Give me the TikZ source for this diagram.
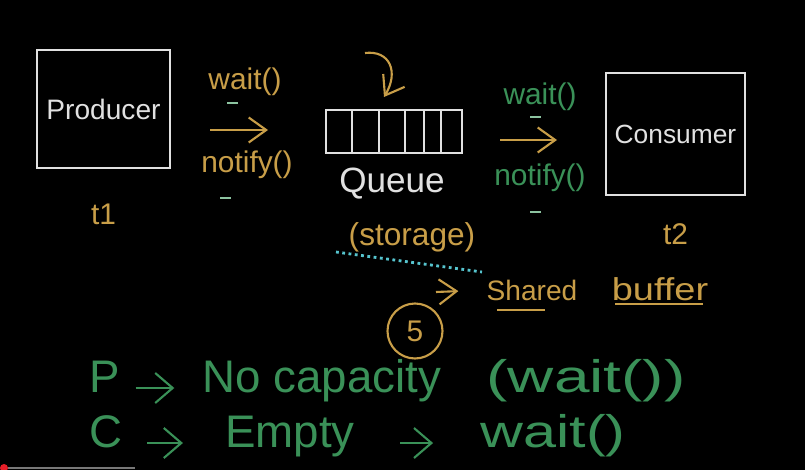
\documentclass[tikz,border=0pt]{standalone}
\usepackage{fontspec}
\setmainfont{Liberation Sans}
\usetikzlibrary{positioning,arrows.meta}
\definecolor{chalkwhite}{RGB}{225,225,225}
\definecolor{chalkgold}{RGB}{200,158,72}
\definecolor{chalkgreen}{RGB}{58,145,88}
\definecolor{chalkmint}{RGB}{140,195,160}
\definecolor{chalkcyan}{RGB}{86,196,206}
\definecolor{progressgray}{RGB}{120,120,120}
\definecolor{progressred}{RGB}{230,30,40}

\begin{document}
\begin{tikzpicture}[
    x=0.02cm, y=-0.02cm,
    box/.style={rectangle, draw=chalkwhite, line width=1.1pt, inner sep=0pt, text=chalkwhite},
    whitetext/.style={text=chalkwhite, inner sep=0pt},
    goldtext/.style={text=chalkgold, inner sep=0pt},
    greentext/.style={text=chalkgreen, inner sep=0pt},
    chalkarrow/.style={draw=chalkgold, line width=1.2pt, -{Straight Barb[length=3.5mm,width=5mm]}},
    rulearrow/.style={draw=chalkgreen, line width=1.2pt, -{Straight Barb[length=3.5mm,width=6mm]}},
    tick/.style={draw=chalkmint, line width=1.2pt},
    smallfont/.style={font=\fontsize{17}{19}\selectfont},
    rulefont/.style={font=\fontsize{26}{28}\selectfont, text height=0.75em, text depth=0.25em}
]

% Board
\fill[black] (0,0) rectangle (805,470);
\useasboundingbox (0,0) rectangle (805,470);

% Main blocks
\node[box, minimum width=2.66cm, minimum height=2.36cm, font=\fontsize{16}{18}\selectfont] (producer) at (103.5,109) {Producer};
\node[box, minimum width=2.72cm, minimum height=0.86cm] (queue) at (394,131.5) {};
\node[box, minimum width=2.78cm, minimum height=2.44cm, font=\fontsize{15}{17}\selectfont] (consumer) at (675.5,134) {Consumer};

% Queue slots
\foreach \x in {352,379,405,424,441}
    \draw[chalkwhite, line width=1.1pt] (\x,110) -- (\x,153);

% Threads
\node[goldtext, smallfont, below=0.69cm of producer] (tone) {t1};
\node[goldtext, smallfont, below=0.55cm of consumer] (ttwo) {t2};

% Producer -> Queue
\coordinate (pqtail) at (210,130);
\coordinate (pqhead) at (268,130);
\draw[chalkarrow] (pqtail) -- (pqhead);
\node[goldtext, smallfont] (pwait) at (245,82) {wait()};
\node[goldtext, smallfont] (pnotify) at (247,165) {notify()};
\draw[tick] (227,103) -- (238,103);
\draw[tick] (220,198) -- (231,198);

% Queue -> Consumer
\coordinate (qctail) at (500,140);
\coordinate (qchead) at (557,140);
\draw[chalkarrow] (qctail) -- (qchead);
\node[greentext, smallfont] (cwait) at (540,97) {wait()};
\node[greentext, smallfont] (cnotify) at (540,178) {notify()};
\draw[tick] (530,117) -- (541,117);
\draw[tick] (530,212) -- (541,212);

% Into the queue
\coordinate (qin) at (365,53);
\coordinate (qtip) at (384,97);
\draw[chalkarrow] (qin) .. controls (390,50) and (399,72) .. (qtip);

% Queue labels
\node[whitetext, font=\fontsize{20}{22}\selectfont] (queuelbl) at (392,184) {Queue};
\node[goldtext, font=\fontsize{18}{20}\selectfont] (storage) at (412,237) {(storage)};
\draw[chalkcyan, dotted, line width=1.6pt] (336,252) -- (482,272);

% Shared buffer
\node[goldtext, font=\fontsize{16}{18}\selectfont] (shared) at (532,290) {Shared};
\node[goldtext, font=\fontsize{18}{20}\selectfont] (buffer) at (660,289) {\scalebox{1.2}[1]{buffer}};
\coordinate (sharedtail) at (436,292);
\draw[chalkarrow, shorten >=0.56cm] (sharedtail) -- (shared.west);
\draw[chalkgold, line width=1.2pt] (497,310) -- (545,310);
\draw[chalkgold, line width=1.2pt] (615,304) -- (703,304);

% Capacity
\node[circle, draw=chalkgold, line width=1.2pt, minimum size=1.1cm, goldtext, smallfont] (capacity) at (415,331) {5};

% Rules
\node[greentext, rulefont] (pletter) at (105,388) {P};
\node[greentext, rulefont] (pnocap) at (322,388) {No capacity};
\node[greentext, rulefont] (pwaitcall) at (586,388) {\scalebox{1.4}[1]{(wait())}};
\draw[rulearrow, shorten <=0.3cm, shorten >=0.56cm] (pletter) -- (pnocap);

\node[greentext, rulefont] (cletter) at (106,443) {C};
\node[greentext, rulefont] (cempty) at (290,443) {Empty};
\node[greentext, rulefont] (cwaitcall) at (553,443) {\scalebox{1.3}[1]{wait()}};
\draw[rulearrow, shorten <=0.49cm, shorten >=0.84cm] (cletter) -- (cempty);
\draw[rulearrow, shorten <=0.9cm, shorten >=0.94cm] (cempty) -- (cwaitcall);

% Progress bar
\fill[progressgray] (8,467) rectangle (135,469);
\fill[progressred] (4,468) circle (0.08cm);

\end{tikzpicture}
\end{document}
